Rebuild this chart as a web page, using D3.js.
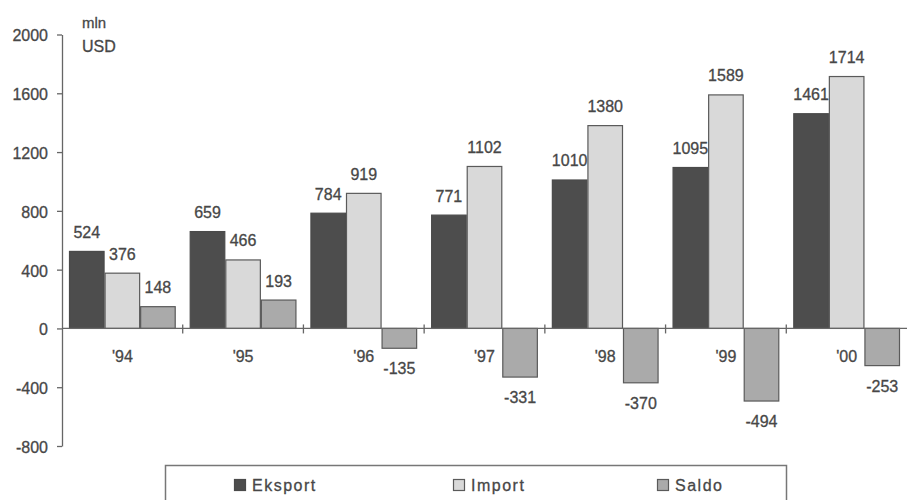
<!DOCTYPE html>
<html>
<head>
<meta charset="utf-8">
<script src="https://cdn.jsdelivr.net/npm/d3@7/dist/d3.min.js"></script>
<style>
  html, body { margin: 0; padding: 0; background: #fff; }
  svg { display: block; font-family: "Liberation Sans", Arial, sans-serif; }
  svg text { stroke: #474747; stroke-width: 0.3px; }
</style>
</head>
<body>
<svg id="chart" width="907" height="500"></svg>
<script>
// Trade balance, mln USD
const years   = ["'94", "'95", "'96", "'97", "'98", "'99", "'00"];
const eksport = [524, 659, 784, 771, 1010, 1095, 1461];
const importV = [376, 466, 919, 1102, 1380, 1589, 1714];
const saldo   = [148, 193, -135, -331, -370, -494, -253];
const seriesNames = ["Eksport", "Import", "Saldo"];
const yTicks = [-800, -400, 0, 400, 800, 1200, 1600, 2000];

const seriesValues = [eksport, importV, saldo];
const fills = ["#4d4d4d", "#d9d9d9", "#aaaaaa"];
const strokes = ["#4a4a4a", "#5a5a5a", "#5a5a5a"];
const textColor = "#474747";

const svg = d3.select("#chart");

const x = d3.scaleBand().domain(years).range([62, 907]).padding(0);
const xs = d3.scaleBand().domain(seriesNames).range([7, x.bandwidth() - 7]).padding(0);
const y = d3.scaleLinear().domain([-800, 2000]).range([446, 34.5]);

// Y axis
const yAxis = svg.append("g")
  .attr("transform", "translate(62,0)")
  .call(d3.axisLeft(y).tickValues(yTicks).tickFormat(d => String(d))
    .tickSize(5).tickPadding(9).tickSizeOuter(0));
yAxis.select(".domain").attr("stroke", "#666").attr("stroke-width", 1.3);
yAxis.selectAll(".tick line").attr("stroke", "#666").attr("stroke-width", 1.3);
yAxis.selectAll(".tick text")
  .attr("fill", textColor).attr("font-size", 16).attr("font-family", "Liberation Sans, Arial, sans-serif")
  .attr("dy", "0.4em");

// Unit label
svg.append("text").attr("x", 82).attr("y", 28).attr("font-size", 15).attr("fill", textColor).text("mln");
svg.append("text").attr("x", 82).attr("y", 52).attr("font-size", 16).attr("fill", textColor).text("USD");

// Bars
const rows = years.map((yr, i) => seriesNames.map((s, k) => ({ yr, s, k, v: seriesValues[k][i] })));
const groups = svg.append("g").selectAll("g")
  .data(rows).join("g")
  .attr("transform", (d, i) => `translate(${x(years[i])},0)`);

groups.selectAll("rect")
  .data(d => d).join("rect")
  .attr("x", d => xs(d.s) + 0.5)
  .attr("width", xs.bandwidth() - 1)
  .attr("y", d => y(Math.max(0, d.v)))
  .attr("height", d => Math.abs(y(d.v) - y(0)))
  .attr("fill", d => fills[d.k])
  .attr("stroke", d => strokes[d.k])
  .attr("stroke-width", 1.2);

groups.selectAll("text.val")
  .data(d => d).join("text")
  .attr("class", "val")
  .attr("x", d => xs(d.s) + xs.bandwidth() / 2)
  .attr("y", d => d.v >= 0 ? y(d.v) - 13.5 : y(d.v) + 26)
  .attr("text-anchor", "middle")
  .attr("font-size", 16)
  .attr("fill", textColor)
  .text(d => d.v);

// Zero line with category boundary ticks
const xAxis = svg.append("g");
xAxis.append("line")
  .attr("x1", 62).attr("x2", 907).attr("y1", y(0)).attr("y2", y(0))
  .attr("stroke", "#666").attr("stroke-width", 1.3);
xAxis.selectAll("line.tk")
  .data(years.slice(0, -1)).join("line")
  .attr("class", "tk")
  .attr("x1", d => x(d) + x.bandwidth()).attr("x2", d => x(d) + x.bandwidth())
  .attr("y1", y(0) - 4).attr("y2", y(0) + 5)
  .attr("stroke", "#666").attr("stroke-width", 1.3);
xAxis.selectAll("text")
  .data(years).join("text")
  .attr("x", d => x(d) + x.bandwidth() / 2)
  .attr("y", 362)
  .attr("text-anchor", "middle")
  .attr("font-size", 16)
  .attr("fill", textColor)
  .text(d => d);

// Legend
const legend = svg.append("g");
legend.append("rect")
  .attr("x", 165.5).attr("y", 465.5).attr("width", 621).attr("height", 50)
  .attr("fill", "#fff").attr("stroke", "#777").attr("stroke-width", 1.5);
const legendX = [234, 453, 657];
const items = legend.selectAll("g.item")
  .data(seriesNames).join("g")
  .attr("class", "item")
  .attr("transform", (d, i) => `translate(${legendX[i]},0)`);
items.append("rect")
  .attr("x", 0.5).attr("y", 479.5).attr("width", 11).attr("height", 11)
  .attr("fill", (d, i) => fills[i]).attr("stroke", (d, i) => strokes[i]).attr("stroke-width", 1.2);
items.append("text")
  .attr("x", 18).attr("y", 491)
  .attr("font-size", 16).attr("letter-spacing", 1.5)
  .attr("fill", textColor)
  .text(d => d);
</script>
</body>
</html>
